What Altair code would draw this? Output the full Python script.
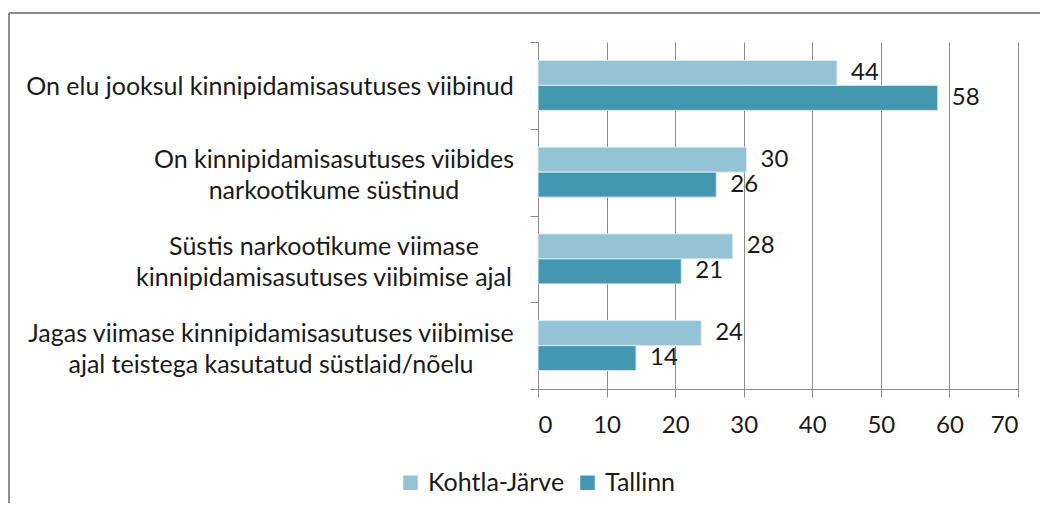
import altair as alt
import pandas as pd

categories = [
    "On elu jooksul kinnipidamisasutuses viibinud",
    "On kinnipidamisasutuses viibides\nnarkootikume süstinud",
    "Süstis narkootikume viimase\nkinnipidamisasutuses viibimise ajal",
    "Jagas viimase kinnipidamisasutuses viibimise\najal teistega  kasutatud süstlaid/nõelu",
]
cities = ["Kohtla-Järve", "Tallinn"]
kohtla = [43.6, 30.4, 28.4, 23.8]
tallinn = [58.3, 26.0, 20.9, 14.3]
x_ticks = [0, 10, 20, 30, 40, 50, 60, 70]
colors = ["#93C3D5", "#4397B0"]

rows = []
for c, k, t in zip(categories, kohtla, tallinn):
    rows.append({"category": c, "city": cities[0], "value": k})
    rows.append({"category": c, "city": cities[1], "value": t})
df = pd.DataFrame(rows)
cat_df = pd.DataFrame({"category": categories})

FONT = "Lato"
FS = 24
GRAY = "#8c8c8c"
TXT = "#1a1a1a"

y_enc = alt.Y(
    "category:N",
    sort=categories,
    scale=alt.Scale(paddingInner=0, paddingOuter=0),
    axis=alt.Axis(
        title=None,
        labels=False,
        tickBand="extent",
        tickSize=8,
        tickColor=GRAY,
        domainColor=GRAY,
        grid=False,
    ),
)
yoff = alt.YOffset("city:N", sort=cities, scale=alt.Scale(paddingInner=0, paddingOuter=0.735))
x_enc = alt.X(
    "value:Q",
    scale=alt.Scale(domain=[0, 70], nice=False),
    axis=alt.Axis(
        title=None,
        values=x_ticks,
        grid=True,
        gridColor=GRAY,
        tickColor=GRAY,
        domainColor=GRAY,
        tickSize=8,
        labelPadding=16,
        labelFont=FONT,
        labelFontSize=FS,
        labelColor=TXT,
    ),
)

base = alt.Chart(df)
bars = base.mark_bar(stroke="#dcebf1", strokeWidth=1).encode(
    x=x_enc,
    y=y_enc,
    yOffset=yoff,
    color=alt.Color(
        "city:N",
        sort=cities,
        scale=alt.Scale(domain=cities, range=colors),
        legend=alt.Legend(
            title=None,
            orient="none",
            direction="horizontal",
            legendX=-140,
            legendY=428,
            symbolType="square",
            symbolSize=210,
            symbolStrokeWidth=0,
            labelFont=FONT,
            labelFontSize=FS + 1,
            labelColor=TXT,
            columnPadding=10,
            labelOffset=5,
        ),
    ),
)
texts = base.mark_text(align="left", baseline="middle", dx=14, font=FONT, fontSize=FS, color=TXT).encode(
    x="value:Q",
    y=alt.Y("category:N", sort=categories),
    yOffset=alt.YOffset("city:N", sort=cities),
    text=alt.Text("value:Q", format=".0f"),
)

dx_expr = (
    "indexof(datum.category, 'viibides') >= 0 ? 64 : "
    "indexof(datum.category, 'Süstis') >= 0 ? 54 : "
    "indexof(datum.category, 'Jagas') >= 0 ? 1 : 0"
)
dy_expr = "indexof(datum.category, '\\n') >= 0 ? -12 : 2"
ylabels = alt.Chart(cat_df).mark_text(
    align="center", baseline="middle", lineBreak="\n", lineHeight=31,
    font=FONT, fontSize=FS + 1, color=TXT, dx={"expr": dx_expr}, dy={"expr": dy_expr},
).encode(
    x=alt.value(-268),
    y=alt.Y("category:N", sort=categories),
    text="category:N",
)

frame_left = alt.Chart(cat_df).mark_rule(color=GRAY, strokeWidth=2).encode(
    x=alt.value(-529), y=alt.value(-29), y2=alt.value(600)
)
frame_top = alt.Chart(cat_df).mark_rule(color=GRAY, strokeWidth=2).encode(
    x=alt.value(-529), x2=alt.value(600), y=alt.value(-29)
)

chart = alt.layer(frame_left, frame_top, bars, texts, ylabels).properties(
    width=480,
    height=347,
    padding={"left": 530, "top": 34, "right": 22, "bottom": 114},
    autosize=alt.AutoSizeParams(type="none"),
    background="white",
).configure_view(stroke=None)

chart.save("out.html", embed_options={"renderer": "svg", "actions": False})
